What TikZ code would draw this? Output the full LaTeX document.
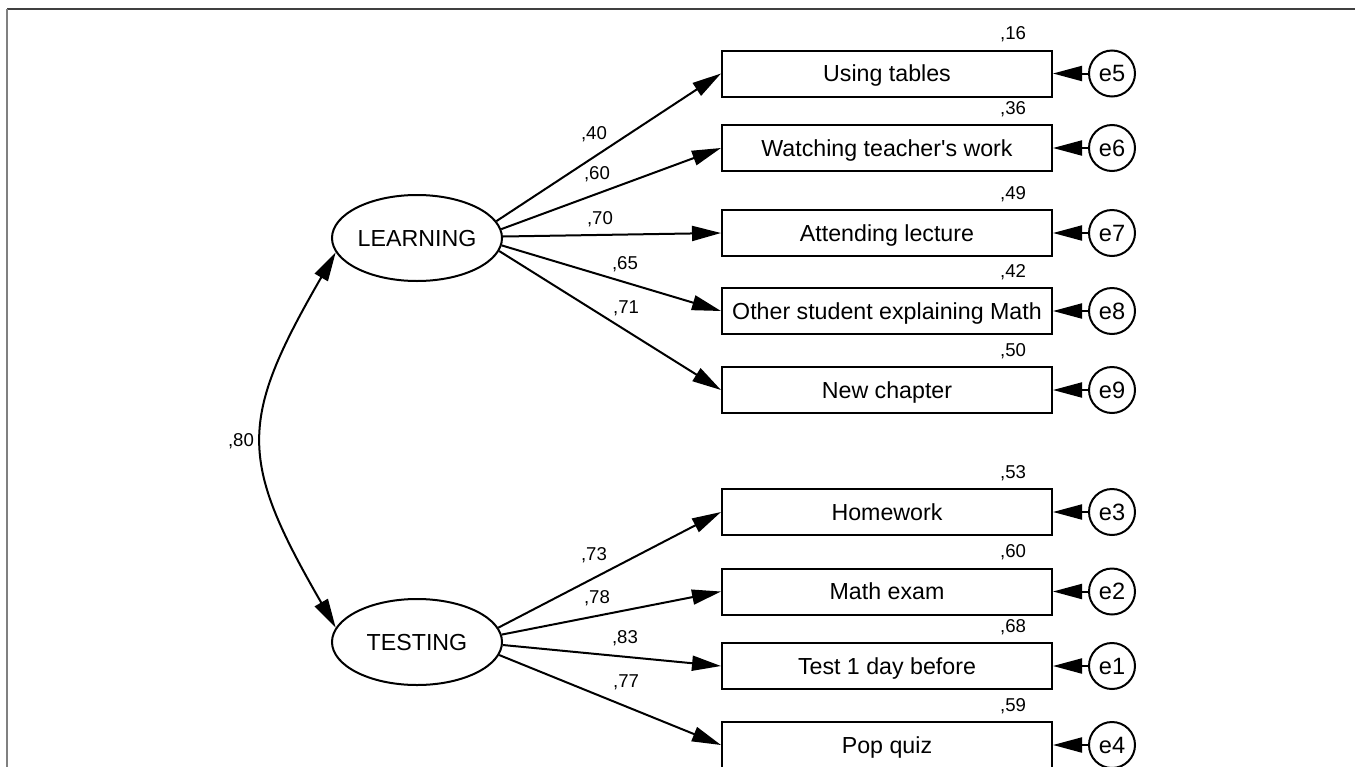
\documentclass[tikz,border=0pt]{standalone}
\usepackage{fontspec}
\setmainfont{Liberation Sans}
\usetikzlibrary{shapes,arrows.meta,positioning}

\begin{document}
\begin{tikzpicture}[
    x=0.5pt, y=-0.5pt,
    latent/.style={draw, ellipse, line width=1pt, minimum width=85pt, minimum height=43pt, inner sep=0pt, text height=8.2pt, text depth=0pt, font=\fontsize{11.6}{13}\selectfont},
    observed/.style={draw, rectangle, line width=1pt, minimum width=165pt, minimum height=23pt, inner sep=0pt, text height=8.2pt, text depth=0pt, font=\fontsize{11.6}{13}\selectfont},
    errvar/.style={draw, circle, line width=1pt, minimum size=23pt, inner sep=0pt, font=\fontsize{11.8}{13}\selectfont},
    coef/.style={inner sep=0pt, font=\fontsize{9.3}{10}\selectfont},
    loading/.style={-{Triangle[length=14.5pt,width=7.5pt]}, line width=1pt},
    covar/.style={{Triangle[length=14.5pt,width=7.5pt]}-{Triangle[length=14.5pt,width=7.5pt]}, line width=1pt}
]
\useasboundingbox (0,0) rectangle (1355,766);
\draw[black!75, line width=0.9pt] (7,9) -- (1356,9);
\draw[black!50, line width=0.9pt] (7,9) -- (7,767);

% latent factors
\node[latent] (L) at (417,238) {LEARNING};
\node[latent] (T) at (417,642) {TESTING};

% indicators
\node[observed] (x5) at (887,73.5) {Using tables};
\node[observed] (x6) at (887,148) {Watching teacher\textquotesingle s work};
\node[observed] (x7) at (887,233) {Attending lecture};
\node[observed] (x8) at (887,311) {Other student explaining Math};
\node[observed] (x9) at (887,390) {New chapter};
\node[observed] (x3) at (887,512) {Homework};
\node[observed] (x2) at (887,591.5) {Math exam};
\node[observed] (x1) at (887,666) {Test 1 day before};
\node[observed] (x4) at (887,745) {Pop quiz};

% error terms
\node[errvar] (e5) [right=17.5pt of x5] {e5};
\node[errvar] (e6) [right=17.5pt of x6] {e6};
\node[errvar] (e7) [right=17.5pt of x7] {e7};
\node[errvar] (e8) [right=17.5pt of x8] {e8};
\node[errvar] (e9) [right=17.5pt of x9] {e9};
\node[errvar] (e3) [right=17.5pt of x3] {e3};
\node[errvar] (e2) [right=17.5pt of x2] {e2};
\node[errvar] (e1) [right=17.5pt of x1] {e1};
\node[errvar] (e4) [right=17.5pt of x4] {e4};

% squared multiple correlations
\node[coef] (r5) at ([xshift=-20pt,yshift=7.5pt]x5.north east) {,16};
\node[coef] (r6) at ([xshift=-20pt,yshift=7.5pt]x6.north east) {,36};
\node[coef] (r7) at ([xshift=-20pt,yshift=7.5pt]x7.north east) {,49};
\node[coef] (r8) at ([xshift=-20pt,yshift=7.5pt]x8.north east) {,42};
\node[coef] (r9) at ([xshift=-20pt,yshift=7.5pt]x9.north east) {,50};
\node[coef] (r3) at ([xshift=-20pt,yshift=7.5pt]x3.north east) {,53};
\node[coef] (r2) at ([xshift=-20pt,yshift=7.5pt]x2.north east) {,60};
\node[coef] (r1) at ([xshift=-20pt,yshift=7.5pt]x1.north east) {,68};
\node[coef] (r4) at ([xshift=-20pt,yshift=7.5pt]x4.north east) {,59};

% loadings
\draw[loading] (L.12) -- (x5.west);
\draw[loading] (L.6) -- (x6.west);
\draw[loading] (L.1) -- (x7.west);
\draw[loading] (L.-5) -- (x8.west);
\draw[loading] (L.-9) -- (x9.west);
\draw[loading] (T.10) -- (x3.west);
\draw[loading] (T.5) -- (x2.west);
\draw[loading] (T.-2) -- (x1.west);
\draw[loading] (T.-9) -- (x4.west);

\node[coef] (w5) at (594,134) {,40};
\node[coef] (w6) at (597,174) {,60};
\node[coef] (w7) at (600,219) {,70};
\node[coef] (w8) at (625,264) {,65};
\node[coef] (w9) at (626,308) {,71};
\node[coef] (w3) at (594,555) {,73};
\node[coef] (w2) at (597,598) {,78};
\node[coef] (w1) at (625,638) {,83};
\node[coef] (w4) at (626,682) {,77};

% residuals
\foreach \i in {1,...,9} \draw[loading] (e\i) -- (x\i);

% factor covariance
\draw[covar] (L.190) to[out=240, in=120, looseness=1.33] (T.170);
\node[coef] (c) at (241,441) {,80};
\end{tikzpicture}
\end{document}
